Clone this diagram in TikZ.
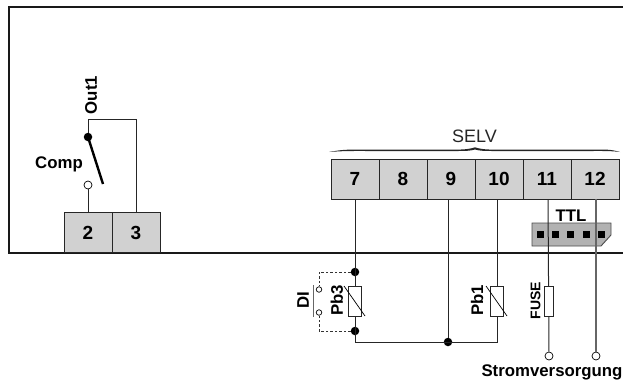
\documentclass[tikz,border=0pt]{standalone}
\usepackage{fontspec}
\setmainfont{Liberation Sans}
\tikzset{
 x=1pt,y=-1pt,
 wire/.style={line width=1pt,draw=black!85},
 term/.style={draw=black!85,line width=1pt,fill=black!18,minimum width=48pt,minimum height=40pt,inner sep=0pt,font=\bfseries\fontsize{19}{19}\selectfont},
 lab/.style={inner sep=0pt,font=\bfseries\fontsize{16.8}{16.8}\selectfont},
 res/.style={draw=black!85,fill=white,line width=0.8pt,minimum width=13pt,minimum height=30pt,inner sep=0pt},
 fuse/.style={draw=black!85,fill=white,line width=0.8pt,minimum width=9pt,minimum height=30pt,inner sep=0pt},
 dotj/.style={circle,fill=black,minimum size=8.5pt,inner sep=0pt},
 opn/.style={circle,draw=black,fill=white,line width=0.7pt,minimum size=#1,inner sep=0pt},
 opn/.default=8pt,
 pin/.style={fill=black,minimum size=7pt,inner sep=0pt},
 dsh/.style={line width=0.8pt,draw=black!80,dash pattern=on 2.5pt off 2pt},
}
\begin{document}
\begin{tikzpicture}
\useasboundingbox (0,0) rectangle (623,383);
\draw[line width=2pt,black!90] (623,7) -- (8.5,7) -- (8.5,253) -- (623,253);
% left terminals
\node[term] (t2) at (88,232.5) {2};
\node[term] (t3) at (136,232.5) {3};
\node[dotj] (sw) at (88,137) {};
\node[opn] (nc) at (88,185) {};
\coordinate (swend) at (103,184);
\coordinate (tl) at (88,119);
\coordinate (tr) at (136,119);
\draw[wire] (sw) -- (tl) -- (tr) -- (t3.north);
\draw[wire] (nc) -- (t2.north);
\draw[line width=2.4pt,black] (sw.center) -- (swend);
\node[lab,rotate=90] (out) at (91,95) {Out1};
\node[lab] (comp) at (59,164) {Comp};
% right terminals
\node[term] (t7) at (355,179) {7};
\node[term] (t8) at (403,179) {8};
\node[term] (t9) at (451,179) {9};
\node[term] (t10) at (499,179) {10};
\node[term] (t11) at (547,179) {11};
\node[term] (t12) at (595,179) {12};
\node[inner sep=0pt,font=\fontsize{18}{18}\selectfont,black!85] (selv) at (474.5,136) {SELV};
\fill[black!85] (329,152) .. controls (345,149) and (350,149.6) .. (370,149.6) -- (455,149.6)
 .. controls (465,149.6) and (470,149) .. (475,147.3)
 .. controls (480,149) and (485,149.6) .. (495,149.6) -- (590,149.6)
 .. controls (605,149.6) and (610,149) .. (620,152)
 .. controls (610,150.8) and (605,151) .. (590,151) -- (495,151)
 .. controls (485,151) and (480,151) .. (475,149.5)
 .. controls (470,151) and (465,151) .. (455,151) -- (370,151)
 .. controls (350,151) and (345,150.8) .. (329,152) -- cycle;
% TTL
\node[lab] (ttl) at (571,216) {TTL};
\draw[draw=black!70,fill=black!30,line width=0.9pt] (532,223) -- (611,223) -- (611,235) -- (601,246) -- (532,246) -- cycle;
\node[pin] (p1) at (540,234) {};
\node[pin] (p2) at (555,234) {};
\node[pin] (p3) at (570,234) {};
\node[pin] (p4) at (586,234) {};
\node[pin] (p5) at (601,234) {};
% lower junctions
\node[dotj] (j1) at (355,272) {};
\node[dotj] (j2) at (355,331) {};
\node[dotj] (j3) at (448,342) {};
\coordinate (w7) at (355,199);
\coordinate (w9) at (448,199);
\coordinate (w10) at (497,199);
\coordinate (w11) at (548,199);
\coordinate (w12) at (596,199);
\coordinate (c7) at (355,342);
\coordinate (c10) at (497,342);
\node[opn] (o11) at (549,356) {};
\node[opn] (o12) at (596,356) {};
\draw[wire] (w7) -- (c7) -- (c10) -- (w10);
\draw[wire] (w9) -- (j3);
\draw[wire] (w11) -- (o11);
\draw[line width=1.2pt,black!60] (w12) -- (o12);
% components
\node[res] (r3) at (354.5,301.5) {};
\draw[line width=0.7pt] (344,286) -- (365,316);
\node[res] (r1) at (496.5,301) {};
\draw[line width=0.7pt] (486,286) -- (507,316);
\node[fuse] (f) at (548.5,301) {};
% DI
\node[opn=5.5pt] (d1) at (319,289.5) {};
\node[opn=5.5pt] (d2) at (319,312.5) {};
\coordinate (a1) at (319,272);
\coordinate (a2) at (319,331);
\draw[dsh] (j1) -- (a1) -- (d1);
\draw[dsh] (j2) -- (a2) -- (d2);
\coordinate (b1) at (313,285);
\coordinate (b2) at (313,317);
\draw[line width=1pt,black!60] (b1) -- (b2);
\node[lab,rotate=90] (di) at (303,300.5) {DI};
\node[lab,rotate=90] (pb3) at (337,300.5) {Pb3};
\node[lab,rotate=90] (pb1) at (477,300.5) {Pb1};
\node[inner sep=0pt,rotate=90,font=\bfseries\fontsize{14}{14}\selectfont] (fu) at (535.5,300.5) {FUSE};
\node[lab] (sv) at (552,372.5) {Stromversorgung};
\end{tikzpicture}
\end{document}
